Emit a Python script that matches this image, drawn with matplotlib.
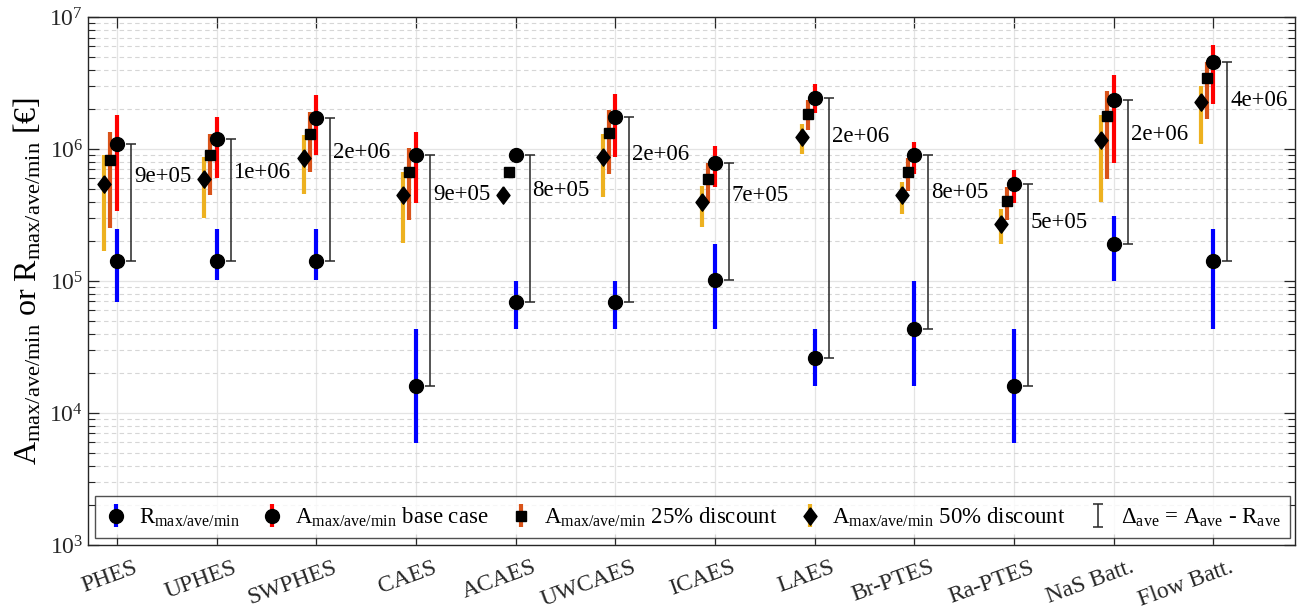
import numpy as np
import matplotlib
matplotlib.use('Agg')
import matplotlib.pyplot as plt
import matplotlib.transforms as mtransforms

plt.rcParams['font.family'] = ['Liberation Serif', 'DejaVu Serif']
plt.rcParams['mathtext.fontset'] = 'custom'
plt.rcParams['mathtext.rm'] = 'Liberation Serif'
plt.rcParams['mathtext.it'] = 'Liberation Serif:italic'
plt.rcParams['mathtext.bf'] = 'Liberation Serif:bold'

# Technologies
names = ['PHES', 'UPHES', 'SWPHES', 'CAES', 'ACAES', 'UWCAES', 'ICAES', 'LAES',
         'Br-PTES', 'Ra-PTES', 'NaS Batt.', 'Flow Batt.']

# R (max / ave / min)
R_max = [2.46e5, 2.46e5, 2.46e5, 4.36e4, 1.0e5, 1.0e5, 1.91e5, 4.36e4, 1.0e5, 4.36e4, 3.1e5, 2.46e5]
R_ave = [1.43e5, 1.43e5, 1.43e5, 1.6e4, 6.9e4, 6.9e4, 1.02e5, 2.63e4, 4.36e4, 1.6e4, 1.92e5, 1.43e5]
R_min = [6.9e4, 1.02e5, 1.02e5, 5.9e3, 4.36e4, 4.36e4, 4.36e4, 1.6e4, 1.6e4, 5.9e3, 1.0e5, 4.36e4]

# A base case
A_max = [1.8e6, 1.75e6, 2.56e6, 1.35e6, 9.7e5, 2.63e6, 1.05e6, 3.1e6, 1.14e6, 6.95e5, 3.61e6, 6.1e6]
A_ave = [1.09e6, 1.19e6, 1.73e6, 8.96e5, 8.96e5, 1.75e6, 7.88e5, 2.45e6, 8.96e5, 5.42e5, 2.37e6, 4.56e6]
A_min = [3.4e5, 6.0e5, 9.0e5, 3.89e5, 8.3e5, 8.65e5, 5.14e5, 1.86e6, 6.47e5, 3.89e5, 7.88e5, 2.21e6]

# A 25% discount
A25_max = [1.34e6, 1.31e6, 1.91e6, 1.01e6, 7.3e5, 1.97e6, 7.8e5, 2.34e6, 8.55e5, 5.19e5, 2.74e6, 4.56e6]
A25_ave = [8.26e5, 9.0e5, 1.31e6, 6.67e5, 6.66e5, 1.33e6, 5.9e5, 1.85e6, 6.67e5, 4.03e5, 1.78e6, 3.45e6]
A25_min = [2.53e5, 4.5e5, 6.74e5, 2.88e5, 6.2e5, 6.47e5, 3.89e5, 1.39e6, 4.84e5, 2.88e5, 5.9e5, 1.68e6]

# A 50% discount
A50_max = [9.0e5, 8.75e5, 1.28e6, 6.67e5, 4.85e5, 1.31e6, 5.26e5, 1.54e6, 5.66e5, 3.51e5, 1.81e6, 3.0e6]
A50_ave = [5.43e5, 5.94e5, 8.6e5, 4.45e5, 4.45e5, 8.65e5, 3.96e5, 1.23e6, 4.45e5, 2.7e5, 1.17e6, 2.27e6]
A50_min = [1.7e5, 3.0e5, 4.55e5, 1.94e5, 4.15e5, 4.32e5, 2.55e5, 9.17e5, 3.21e5, 1.91e5, 3.96e5, 1.1e6]

delta_labels = ['9e+05', '1e+06', '2e+06', '9e+05', '8e+05', '2e+06', '7e+05', '2e+06',
                '8e+05', '5e+05', '2e+06', '4e+06']

x = np.arange(1, len(names) + 1)

fig = plt.figure(figsize=(13.02, 6.10), dpi=100)
ax = fig.add_axes([0.0676, 0.1066, 0.927, 0.8654])

sub = r'$_{\mathrm{max/ave/min}}$'
diamond = [(0, 1), (0.75, 0), (0, -1), (-0.75, 0), (0, 1)]


def rng(ave, lo, hi):
    ave = np.array(ave)
    return [ave - np.array(lo), np.array(hi) - ave]


lw = 3.0
h50 = ax.errorbar(x - 0.125, A50_ave, yerr=rng(A50_ave, A50_min, A50_max), fmt='',
                  ls='none', marker=diamond, ms=12.5, mfc='black', mec='black',
                  ecolor='#EDB120', elinewidth=lw, capsize=0, zorder=3,
                  label='A' + sub + ' 50% discount')
h25 = ax.errorbar(x - 0.065, A25_ave, yerr=rng(A25_ave, A25_min, A25_max), fmt='s',
                  color='black', ms=6.5, ecolor='#D95319', elinewidth=lw, capsize=0, zorder=3,
                  label='A' + sub + ' 25% discount')
hA = ax.errorbar(x, A_ave, yerr=rng(A_ave, A_min, A_max), fmt='o',
                 color='black', ms=10, ecolor='#FF0000', elinewidth=lw, capsize=0, zorder=3,
                 label='A' + sub + ' base case')
hR = ax.errorbar(x, R_ave, yerr=rng(R_ave, R_min, R_max), fmt='o',
                 color='black', ms=10, ecolor='#0000FF', elinewidth=lw, capsize=0, zorder=3,
                 label='R' + sub)

# delta = A_ave - R_ave
d_lo = np.array(A_ave) - np.array(R_ave)
hD = ax.errorbar(x + 0.14, A_ave, yerr=[d_lo, np.zeros(len(x))], fmt='none',
                 ecolor='#262626', elinewidth=1.1, capsize=3.5, capthick=1.1, zorder=2,
                 label=r'$\Delta_{\mathrm{ave}}$ = A$_{\mathrm{ave}}$ - R$_{\mathrm{ave}}$')

for i in range(len(x)):
    ymid = (A_ave[i] + R_ave[i]) / 2
    ax.text(x[i] + 0.17, ymid, delta_labels[i], fontsize=16.5, ha='left', va='center',
            color='black', zorder=4)

ax.set_yscale('log')
ax.set_ylim(1e3, 1e7)
ax.set_xlim(0.71, 12.82)
ax.set_xticks(x)
ax.set_xticklabels([])
# rotated category labels, shifted a little right of the ticks
lab_trans = ax.get_xaxis_transform() + mtransforms.ScaledTranslation(0.16, -0.12, fig.dpi_scale_trans)
for xi, name in zip(x, names):
    ax.text(xi, 0, name, transform=lab_trans, rotation=20, rotation_mode='anchor',
            ha='right', va='top', fontsize=17, color='#262626', clip_on=False)

ax.tick_params(axis='y', labelsize=17)
ax.set_ylabel('A' + sub + ' or R' + sub + ' [€]', fontsize=23, labelpad=4)

ax.grid(True, which='major', axis='both', color='#e4e4e4', lw=0.9, ls='-')
ax.grid(True, which='minor', axis='y', color='#d6d6d6', lw=0.8, ls=(0, (4, 3)))
ax.set_axisbelow(True)

ax.tick_params(which='both', direction='in', top=True, right=True, colors='#262626')
ax.tick_params(which='major', length=8, width=0.9)
ax.tick_params(which='minor', length=5, width=0.8)
ax.tick_params(axis='x', which='minor', bottom=False, top=False)
for s in ax.spines.values():
    s.set_color('#262626')
    s.set_linewidth(1.0)

leg = ax.legend(handles=[hR, hA, h25, h50, hD], ncol=5, loc='lower left',
                bbox_to_anchor=(0.006, 0.013, 0.99, 0.08), mode='expand',
                fontsize=16.5, frameon=True, fancybox=False, edgecolor='#262626',
                handlelength=1.0, handletextpad=0.5, borderpad=0.4, borderaxespad=0)
leg.get_frame().set_linewidth(1.0)

fig.savefig('out.png', dpi=100)
